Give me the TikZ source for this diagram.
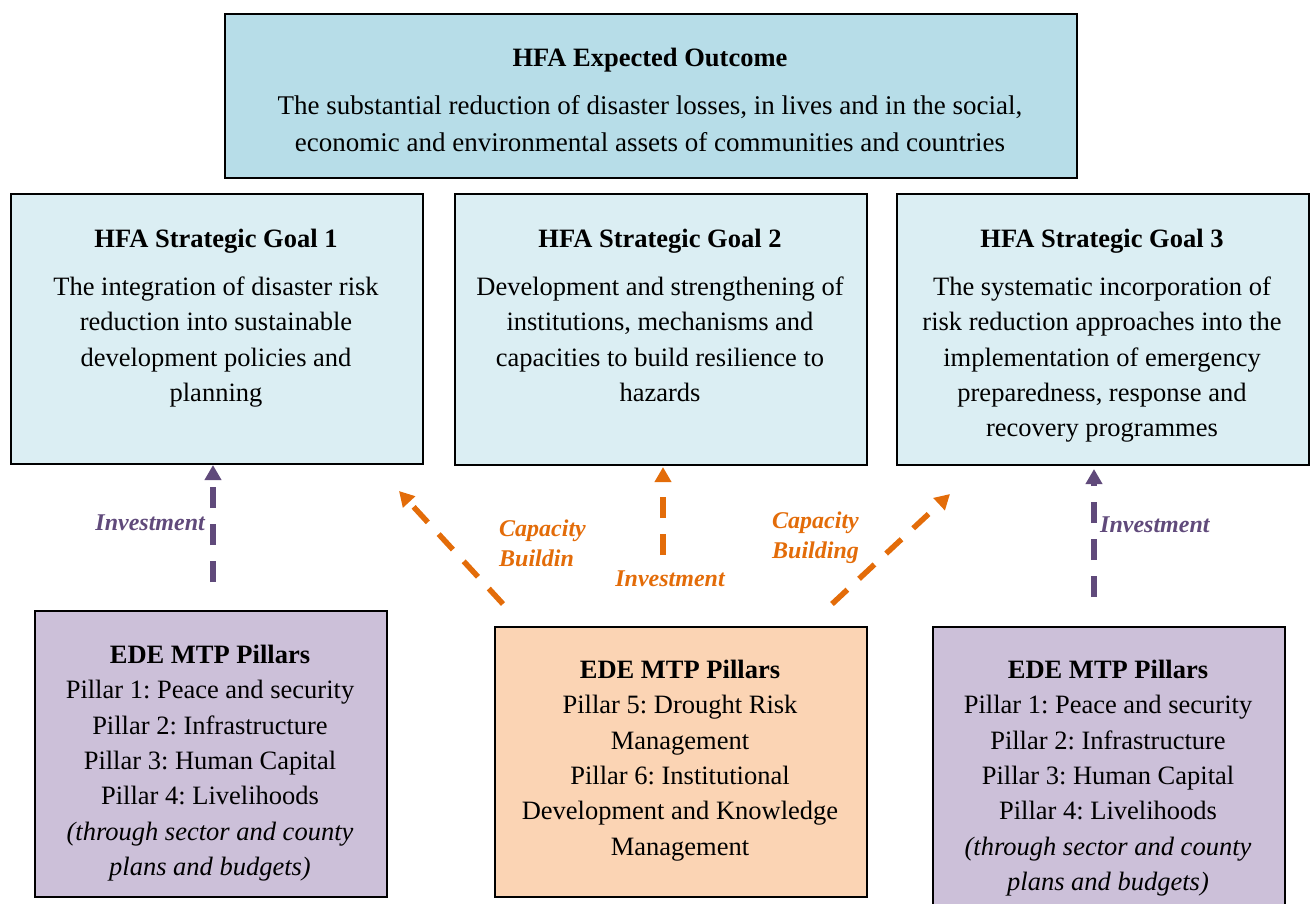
\documentclass[tikz,border=0pt]{standalone}
\usepackage{fontspec}
\setmainfont{Liberation Serif}
\frenchspacing
\usetikzlibrary{arrows.meta}
\definecolor{outblue}{HTML}{B7DDE8}
\definecolor{goalblue}{HTML}{DBEEF3}
\definecolor{pilpurple}{HTML}{CCC0D9}
\definecolor{pilpeach}{HTML}{FBD4B4}
\definecolor{arrpurple}{HTML}{604A7B}
\definecolor{arrorange}{HTML}{E36C09}
\tikzset{
  box/.style={draw=black, line width=2pt, rectangle, anchor=north west, inner sep=0pt},
  txt/.style={anchor=north, inner sep=0pt, align=center, font=\fontsize{26.5}{35.3}\selectfont},
  lbl/.style={inner sep=0pt, align=left, font=\fontsize{24}{30}\selectfont\bfseries\itshape},
  arr/.style={line width=5.5pt, dash pattern=on 21pt off 16pt, -{Triangle[width=16pt,length=15pt]}},
}
\begin{document}
\begin{tikzpicture}[x=1pt,y=-1pt]
\useasboundingbox (0,0) rectangle (1314,903);
% boxes
\node[box, fill=outblue, minimum width=852pt, minimum height=164pt] (outcome) at (224,13) {};
\node[box, fill=goalblue, minimum width=412pt, minimum height=270pt] (goal1) at (10,193) {};
\node[box, fill=goalblue, minimum width=412pt, minimum height=271pt] (goal2) at (454,193) {};
\node[box, fill=goalblue, minimum width=412pt, minimum height=271pt] (goal3) at (896,193) {};
\node[box, fill=pilpurple, minimum width=352pt, minimum height=286pt] (pil1) at (34,610) {};
\node[box, fill=pilpeach, minimum width=372pt, minimum height=270pt] (pil2) at (494,626) {};
\node[box, fill=pilpurple, minimum width=352pt, minimum height=300pt] (pil3) at (932,626) {};
% texts
\node[txt, font=\fontsize{27}{37}\selectfont] (outcomet) at (650,48) {\fontsize{26.5}{37}\selectfont\textbf{HFA Expected Outcome}\\[11pt]
 The substantial reduction of disaster losses, in lives and in the social,\\
 economic and environmental assets of communities and countries};
\node[txt] (goal1t) at (216,229) {\textbf{HFA Strategic Goal 1}\\[12.7pt]
 The integration of disaster risk\\ reduction into sustainable\\ development policies and\\ planning};
\node[txt] (goal2t) at (660,229) {\textbf{HFA Strategic Goal 2}\\[12.7pt]
 Development and strengthening of\\ institutions, mechanisms and\\ capacities to build resilience to\\ hazards};
\node[txt] (goal3t) at (1102,229) {\textbf{HFA Strategic Goal 3}\\[12.7pt]
 The systematic incorporation of\\ risk reduction approaches into the\\ implementation of emergency\\ preparedness, response and\\ recovery programmes};
\node[txt] (pil1t) at (210,645) {\textbf{EDE MTP Pillars}\\
 Pillar 1: Peace and security\\ Pillar 2: Infrastructure\\ Pillar 3: Human Capital\\ Pillar 4: Livelihoods\\
 \textit{(through sector and county}\\ \textit{plans and budgets)}};
\node[txt] (pil2t) at (680,660) {\textbf{EDE MTP Pillars}\\
 Pillar 5: Drought Risk\\ Management\\ Pillar 6: Institutional\\ Development and Knowledge\\ Management};
\node[txt] (pil3t) at (1108,660) {\textbf{EDE MTP Pillars}\\
 Pillar 1: Peace and security\\ Pillar 2: Infrastructure\\ Pillar 3: Human Capital\\ Pillar 4: Livelihoods\\
 \textit{(through sector and county}\\ \textit{plans and budgets)}};
% connector end points
\coordinate (a1s) at (213,582); \coordinate (a1e) at (213,465);
\coordinate (a2s) at (503,604); \coordinate (a2e) at (399,491);
\coordinate (a3s) at (663,555); \coordinate (a3e) at (663,467);
\coordinate (a4s) at (832,604); \coordinate (a4e) at (950,494);
\coordinate (a5s) at (1094,597); \coordinate (a5e) at (1094,469);
% arrows
\draw[arr, draw=arrpurple] (a1s) -- (a1e);
\draw[arr, draw=arrorange] (a2s) -- (a2e);
\draw[arr, draw=arrorange] (a3s) -- (a3e);
\draw[arr, draw=arrorange] (a4s) -- (a4e);
\draw[arr, draw=arrpurple] (a5s) -- (a5e);
% labels
\node[lbl, text=arrpurple, anchor=east] (l1) at (205,523) {Investment};
\node[lbl, text=arrorange, anchor=west] (l2) at (499,543) {Capacity\\Buildin};
\node[lbl, text=arrorange] (l3) at (670,579) {Investment};
\node[lbl, text=arrorange, anchor=west] (l4) at (772,538) {Capacity\\Building};
\node[lbl, text=arrpurple, anchor=west] (l5) at (1100,525) {Investment};
\end{tikzpicture}
\end{document}
